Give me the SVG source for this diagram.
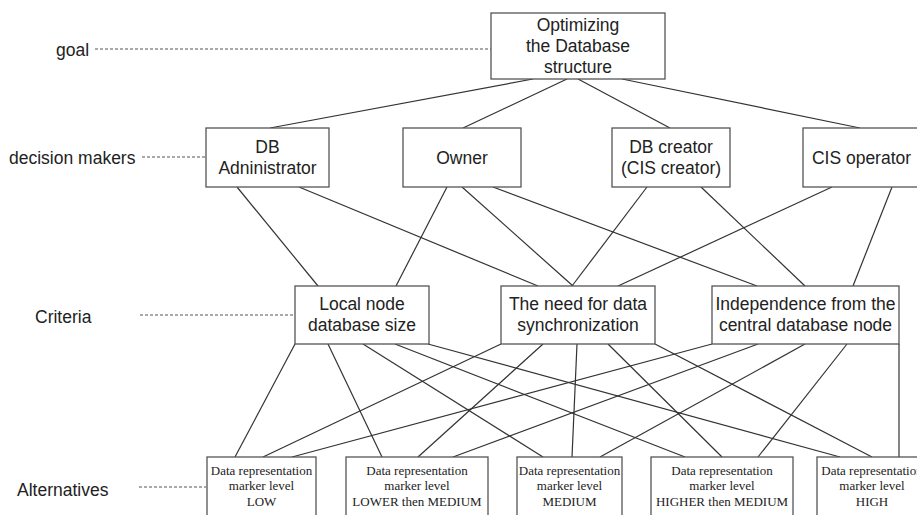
<svg xmlns="http://www.w3.org/2000/svg" width="917" height="515" viewBox="0 0 917 515">
<style>
.bg{fill:#ffffff}
.box{fill:#ffffff;stroke:#555555;stroke-width:1.3}
.lbl{font-family:"Liberation Sans",Arial,sans-serif;font-size:17.5px;fill:#222222;text-anchor:middle}
.side{font-family:"Liberation Sans",Arial,sans-serif;font-size:17.5px;fill:#222222}
.alt{font-family:"Liberation Serif","Times New Roman",serif;font-size:13px;fill:#222222;text-anchor:middle}
.con line{stroke:#333333;stroke-width:1.2}
.dot line{stroke:#555555;stroke-width:1.1;stroke-dasharray:3 2}
</style>
<rect class="bg" x="0" y="0" width="917" height="515"/>

<g id="levels" class="dot">
<line x1="95" y1="49" x2="491" y2="49"/>
<line x1="142" y1="157" x2="205" y2="157"/>
<line x1="140" y1="315" x2="294" y2="315"/>
<line x1="139" y1="487" x2="206" y2="487"/>
</g>
<g id="level-labels">
<text class="side" x="56" y="56">goal</text>
<text class="side" x="9" y="164">decision makers</text>
<text class="side" x="35" y="323">Criteria</text>
<text class="side" x="17" y="496">Alternatives</text>
</g>

<g id="connectors" class="con">
<line x1="533" y1="79" x2="270" y2="128"/>
<line x1="567" y1="79" x2="463" y2="128"/>
<line x1="578" y1="79" x2="670" y2="128"/>
<line x1="622" y1="79" x2="860" y2="128"/>

<line x1="237" y1="187" x2="318" y2="286"/>
<line x1="299" y1="187" x2="538" y2="286"/>
<line x1="447" y1="187" x2="396" y2="286"/>
<line x1="462" y1="187" x2="573" y2="286"/>
<line x1="493" y1="187" x2="757" y2="286"/>
<line x1="647" y1="187" x2="572" y2="286"/>
<line x1="701" y1="187" x2="805" y2="286"/>
<line x1="832" y1="187" x2="618" y2="286"/>
<line x1="892" y1="187" x2="853" y2="286"/>

<line x1="295" y1="344" x2="235" y2="457"/>
<line x1="328" y1="344" x2="382" y2="457"/>
<line x1="363" y1="344" x2="543" y2="457"/>
<line x1="395" y1="344" x2="685" y2="457"/>
<line x1="428" y1="344" x2="840" y2="457"/>

<line x1="501" y1="344" x2="263" y2="457"/>
<line x1="543" y1="344" x2="418" y2="457"/>
<line x1="577" y1="344" x2="572" y2="457"/>
<line x1="608" y1="344" x2="722" y2="457"/>
<line x1="655" y1="344" x2="872" y2="457"/>

<line x1="712" y1="344" x2="292" y2="457"/>
<line x1="758" y1="344" x2="453" y2="457"/>
<line x1="805" y1="344" x2="600" y2="457"/>
<line x1="847" y1="344" x2="758" y2="457"/>
<line x1="899" y1="344" x2="899" y2="457"/>
</g>

<g id="goal">
<rect class="box" x="491" y="13" width="174" height="66"/>
<text class="lbl" x="578" y="31">Optimizing</text>
<text class="lbl" x="578" y="52">the Database</text>
<text class="lbl" x="578" y="73">structure</text>
</g>

<g id="dm-admin">
<rect class="box" x="206" y="128" width="123" height="59"/>
<text class="lbl" x="267.5" y="153">DB</text>
<text class="lbl" x="267.5" y="174">Adninistrator</text>
</g>
<g id="dm-owner">
<rect class="box" x="403" y="128" width="118" height="59"/>
<text class="lbl" x="462" y="164">Owner</text>
</g>
<g id="dm-creator">
<rect class="box" x="612" y="128" width="118" height="59"/>
<text class="lbl" x="671" y="153">DB creator</text>
<text class="lbl" x="671" y="174">(CIS creator)</text>
</g>
<g id="dm-operator">
<rect class="box" x="803" y="128" width="118" height="59"/>
<text class="lbl" x="861.5" y="164">CIS operator</text>
</g>

<g id="cr-size">
<rect class="box" x="295" y="286" width="134" height="58"/>
<text class="lbl" x="362" y="310">Local node</text>
<text class="lbl" x="362" y="331">database size</text>
</g>
<g id="cr-sync">
<rect class="box" x="501" y="286" width="154" height="58"/>
<text class="lbl" x="578" y="310">The need for data</text>
<text class="lbl" x="578" y="331">synchronization</text>
</g>
<g id="cr-indep">
<rect class="box" x="712" y="286" width="187" height="58"/>
<text class="lbl" x="805.5" y="310">Independence from the</text>
<text class="lbl" x="805.5" y="331">central database node</text>
</g>

<g id="alt-low">
<rect class="box" x="207" y="457" width="109" height="70"/>
<text class="alt" x="261.5" y="475">Data representation</text>
<text class="alt" x="261.5" y="490">marker level</text>
<text class="alt" x="261.5" y="506">LOW</text>
</g>
<g id="alt-lower">
<rect class="box" x="346" y="457" width="142" height="70"/>
<text class="alt" x="417" y="475">Data representation</text>
<text class="alt" x="417" y="490">marker level</text>
<text class="alt" x="417" y="506">LOWER then MEDIUM</text>
</g>
<g id="alt-medium">
<rect class="box" x="517" y="457" width="105" height="70"/>
<text class="alt" x="569.5" y="475">Data representation</text>
<text class="alt" x="569.5" y="490">marker level</text>
<text class="alt" x="569.5" y="506">MEDIUM</text>
</g>
<g id="alt-higher">
<rect class="box" x="651" y="457" width="142" height="70"/>
<text class="alt" x="722" y="475">Data representation</text>
<text class="alt" x="722" y="490">marker level</text>
<text class="alt" x="722" y="506">HIGHER then MEDIUM</text>
</g>
<g id="alt-high">
<rect class="box" x="817" y="457" width="110" height="70"/>
<text class="alt" x="872" y="475">Data representation</text>
<text class="alt" x="872" y="490">marker level</text>
<text class="alt" x="872" y="506">HIGH</text>
</g>
</svg>
